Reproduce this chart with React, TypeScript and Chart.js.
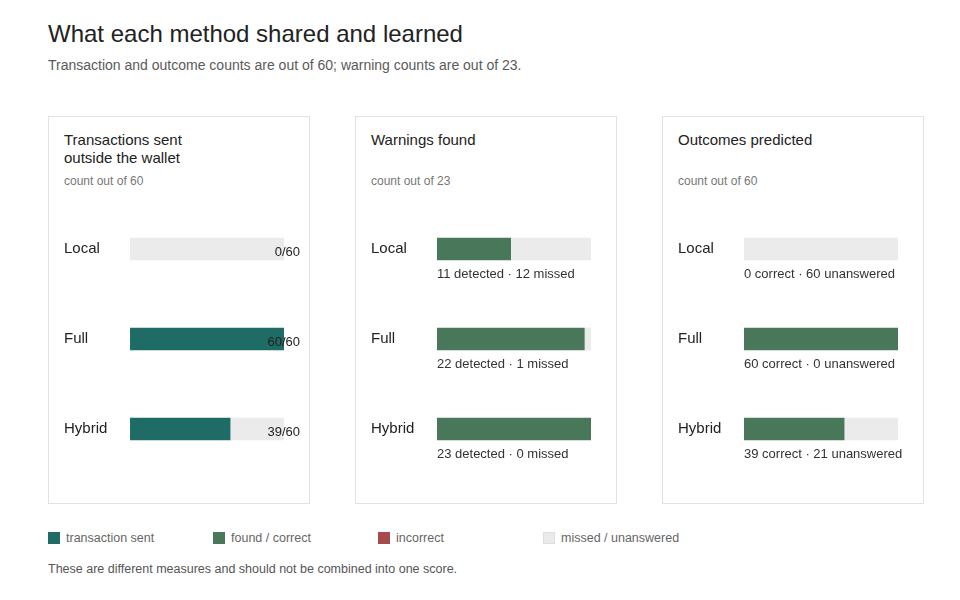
import { useEffect, useRef } from "react";
import { Chart, registerables } from "chart.js";

Chart.register(...registerables);

const methods = ["Local", "Full", "Hybrid"];

const txTotal = 60;
const txSent = [0, 60, 39];

const warnTotal = 23;
const warnDetected = [11, 22, 23];
const warnMissed = [12, 1, 0];

const outTotal = 60;
const outCorrect = [0, 60, 39];
const outIncorrect = [0, 0, 0];
const outUnanswered = [60, 0, 21];

const TEAL = "#1f6b65";
const GREEN = "#48775a";
const RED = "#a64b4b";
const GREY = "#ebebeb";
const FONT = "'Liberation Sans', Arial, Helvetica, sans-serif";

type Labeler = (i: number) => string;

// zero-length segments would still leave a hairline, so skip them
const nz = (arr: number[]) => arr.map((v) => (v === 0 ? null : v));

function PanelChart(props: {
  datasets: { label: string; data: number[]; color: string }[];
  max: number;
  mode: "value" | "sub";
  text: Labeler;
}) {
  const ref = useRef<HTMLCanvasElement | null>(null);

  useEffect(() => {
    if (!ref.current) return;
    const { mode, text } = props;

    // draws the count next to the bar or the breakdown under it
    const labels = {
      id: "barLabels",
      afterDatasetsDraw(chart: Chart) {
        const ctx = chart.ctx;
        const area = chart.chartArea;
        const yScale: any = chart.scales.y;
        ctx.save();
        ctx.font = `13px ${FONT}`;
        ctx.textBaseline = "middle";
        methods.forEach((_m, i) => {
          const y = yScale.getPixelForValue(i);
          if (mode === "value") {
            ctx.textAlign = "right";
            ctx.fillStyle = "#222";
            ctx.fillText(text(i), area.right + 16, y + 3);
          } else {
            ctx.textAlign = "left";
            ctx.fillStyle = "#333";
            ctx.fillText(text(i), area.left, y + 25);
          }
        });
        ctx.restore();
      },
    };

    const chart = new Chart(ref.current, {
      type: "bar",
      data: {
        labels: methods,
        datasets: props.datasets.map((d) => ({
          label: d.label,
          data: nz(d.data),
          backgroundColor: d.color,
          borderWidth: 0,
          barThickness: 22,
        })),
      },
      options: {
        indexAxis: "y",
        responsive: false,
        animation: false,
        layout: { padding: { top: 0, bottom: 20, left: 0, right: 26 } },
        plugins: {
          legend: { display: false },
          tooltip: { enabled: false },
        },
        scales: {
          x: { stacked: true, min: 0, max: props.max, display: false },
          y: {
            stacked: true,
            grid: { display: false },
            border: { display: false },
            ticks: {
              crossAlign: "far",
              color: "#222",
              font: { size: 15, family: FONT },
            },
            afterFit: (s: any) => {
              s.width = 66;
            },
          },
        },
      },
      plugins: [labels],
    });

    return () => {
      chart.destroy();
    };
  }, []);

  return (
    <canvas
      ref={ref}
      width={246}
      height={302}
      style={{ position: "absolute", left: 15, top: 75 }}
    />
  );
}

function Panel(props: {
  left: number;
  title: string[];
  note: string;
  children: any;
}) {
  return (
    <div
      style={{
        position: "absolute",
        left: props.left,
        top: 116,
        width: 262,
        height: 388,
        boxSizing: "border-box",
        border: "1px solid #e2e2e2",
      }}
    >
      <div
        style={{
          position: "absolute",
          left: 15,
          top: 14,
          fontSize: 15,
          lineHeight: "18px",
          color: "#222",
        }}
      >
        {props.title.map((t) => (
          <div key={t}>{t}</div>
        ))}
      </div>
      <div
        style={{
          position: "absolute",
          left: 15,
          top: 57,
          fontSize: 12,
          color: "#777",
        }}
      >
        {props.note}
      </div>
      {props.children}
    </div>
  );
}

const legendItems = [
  { label: "transaction sent", color: TEAL },
  { label: "found / correct", color: GREEN },
  { label: "incorrect", color: RED },
  { label: "missed / unanswered", color: GREY },
];

export default function App() {
  return (
    <div
      style={{
        position: "absolute",
        left: 0,
        top: 0,
        width: 960,
        height: 600,
        background: "#fff",
        fontFamily: FONT,
      }}
    >
      <div
        style={{
          position: "absolute",
          left: 48,
          top: 20,
          fontSize: 24,
          color: "#222",
        }}
      >
        What each method shared and learned
      </div>
      <div
        style={{
          position: "absolute",
          left: 48,
          top: 57,
          fontSize: 14,
          color: "#5a5a5a",
        }}
      >
        Transaction and outcome counts are out of 60; warning counts are out of
        23.
      </div>

      <Panel
        left={48}
        title={["Transactions sent", "outside the wallet"]}
        note={`count out of ${txTotal}`}
      >
        <PanelChart
          max={txTotal}
          mode="value"
          text={(i) => `${txSent[i]}/${txTotal}`}
          datasets={[
            { label: "transaction sent", data: txSent, color: TEAL },
            {
              label: "not sent",
              data: txSent.map((v) => txTotal - v),
              color: GREY,
            },
          ]}
        />
      </Panel>

      <Panel left={355} title={["Warnings found"]} note={`count out of ${warnTotal}`}>
        <PanelChart
          max={warnTotal}
          mode="sub"
          text={(i) => `${warnDetected[i]} detected · ${warnMissed[i]} missed`}
          datasets={[
            { label: "found", data: warnDetected, color: GREEN },
            { label: "missed", data: warnMissed, color: GREY },
          ]}
        />
      </Panel>

      <Panel
        left={662}
        title={["Outcomes predicted"]}
        note={`count out of ${outTotal}`}
      >
        <PanelChart
          max={outTotal}
          mode="sub"
          text={(i) =>
            `${outCorrect[i]} correct · ${outUnanswered[i]} unanswered`
          }
          datasets={[
            { label: "correct", data: outCorrect, color: GREEN },
            { label: "incorrect", data: outIncorrect, color: RED },
            { label: "unanswered", data: outUnanswered, color: GREY },
          ]}
        />
      </Panel>

      {legendItems.map((it, i) => (
        <div
          key={it.label}
          style={{
            position: "absolute",
            left: 48 + i * 165,
            top: 531,
            display: "flex",
            alignItems: "center",
            fontSize: 12.5,
            color: "#666",
          }}
        >
          <span
            style={{
              display: "inline-block",
              width: 12,
              height: 12,
              background: it.color,
              boxSizing: "border-box",
              border: it.color === GREY ? "1px solid #dedede" : "none",
              marginRight: 6,
            }}
          />
          {it.label}
        </div>
      ))}

      <div
        style={{
          position: "absolute",
          left: 48,
          top: 562,
          fontSize: 12.5,
          color: "#555",
        }}
      >
        These are different measures and should not be combined into one score.
      </div>
    </div>
  );
}
